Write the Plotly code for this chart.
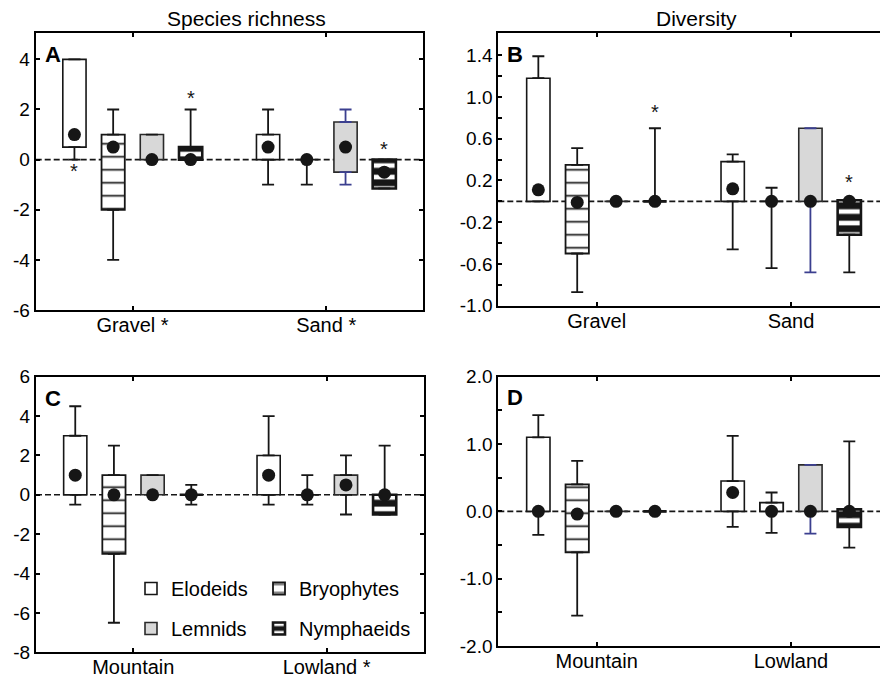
import plotly.graph_objects as go

# ---------------- DATA ----------------
species = ["Elodeids", "Bryophytes", "Lemnids", "Nymphaeids"]

# Panel A: Species richness by substrate
A_cats = ["Gravel *", "Sand *"]
A_q1 = [[0.5, 0.0], [-2.0, 0.0], [0.0, -0.5], [0.0, -1.15]]
A_q3 = [[4.0, 1.0], [1.0, 0.0], [1.0, 1.5], [0.5, 0.0]]
A_lo = [[0.0, -1.0], [-4.0, -1.0], [0.0, -1.0], [0.0, -1.15]]
A_hi = [[4.0, 2.0], [2.0, 0.0], [1.0, 2.0], [2.0, 0.0]]
A_dot = [[1.0, 0.5], [0.5, 0.0], [0.0, 0.5], [0.0, -0.5]]
A_stars = [(0, 0, -0.3), (3, 0, 2.6), (3, 1, 0.6)]  # (species, category, y)

# Panel B: Diversity by substrate
B_cats = ["Gravel", "Sand"]
B_q1 = [[0.0, 0.0], [-0.50, 0.0], [0.0, 0.0], [0.0, -0.32]]
B_q3 = [[1.18, 0.38], [0.35, 0.0], [0.0, 0.70], [0.0, 0.01]]
B_lo = [[0.0, -0.46], [-0.87, -0.64], [0.0, -0.68], [0.0, -0.68]]
B_hi = [[1.39, 0.45], [0.51, 0.13], [0.0, 0.70], [0.70, 0.01]]
B_dot = [[0.11, 0.12], [-0.01, 0.0], [0.0, 0.0], [0.0, 0.0]]
B_stars = [(3, 0, 0.89), (3, 1, 0.225)]

# Panel C: Species richness by altitude
C_cats = ["Mountain", "Lowland *"]
C_q1 = [[0.0, 0.0], [-3.0, 0.0], [0.0, 0.0], [0.0, -1.0]]
C_q3 = [[3.0, 2.0], [1.0, 0.0], [1.0, 1.0], [0.0, 0.0]]
C_lo = [[-0.5, -0.5], [-6.5, -0.5], [0.0, -1.0], [-0.5, -1.0]]
C_hi = [[4.5, 4.0], [2.5, 1.0], [1.0, 2.0], [0.5, 2.5]]
C_dot = [[1.0, 1.0], [0.0, 0.0], [0.0, 0.5], [0.0, 0.0]]
C_stars = []

# Panel D: Diversity by altitude
D_cats = ["Mountain", "Lowland"]
D_q1 = [[0.0, 0.0], [-0.61, 0.0], [0.0, 0.0], [0.0, -0.23]]
D_q3 = [[1.10, 0.45], [0.40, 0.13], [0.0, 0.69], [0.0, 0.03]]
D_lo = [[-0.35, -0.23], [-1.55, -0.32], [0.0, -0.33], [0.0, -0.54]]
D_hi = [[1.43, 1.12], [0.75, 0.28], [0.0, 0.69], [0.0, 1.04]]
D_dot = [[0.0, 0.28], [-0.04, 0.0], [0.0, 0.0], [0.0, 0.0]]
D_stars = []

A_yticks = [-6, -4, -2, 0, 2, 4]
B_yticks = [1.4, 1.0, 0.6, 0.2, -0.2, -0.6, -1.0]
B_yminor = [1.2, 0.8, 0.4, 0.0, -0.4, -0.8]
C_yticks = [-8, -6, -4, -2, 0, 2, 4, 6]
D_yticks = [-2.0, -1.0, 0.0, 1.0, 2.0]
D_yminor = [-1.5, -0.5, 0.5, 1.5]

titles = ["Species richness", "Diversity"]
panel_letters = ["A", "B", "C", "D"]

# ---------------- STYLE ----------------
FONT = "Liberation Sans, Arial, sans-serif"
offsets = [-0.3, -0.1, 0.1, 0.3]
BOX_W = 0.12
INK = "#161616"
BLUE = "#3b3f8f"
blue_whiskers = {("A", 2, 1), ("B", 2, 1), ("D", 2, 1)}

box_styles = [
    dict(color="white", line=dict(color=INK, width=1.6)),
    dict(color="white", line=dict(color=INK, width=1.8),
         pattern=dict(shape="-", fgcolor=INK, bgcolor="white", size=13, solidity=0.13,
                      fillmode="replace", fgopacity=1)),
    dict(color="#d8d8d8", line=dict(color="#2a2a2a", width=1.6)),
    dict(color=INK, line=dict(color=INK, width=2.6),
         pattern=dict(shape="-", fgcolor="white", bgcolor=INK, size=11.5, solidity=0.4,
                      fillmode="replace", fgopacity=1)),
]

panels = [
    ("A", A_cats, A_q1, A_q3, A_lo, A_hi, A_dot, A_stars, "x", "y"),
    ("B", B_cats, B_q1, B_q3, B_lo, B_hi, B_dot, B_stars, "x2", "y2"),
    ("C", C_cats, C_q1, C_q3, C_lo, C_hi, C_dot, C_stars, "x3", "y3"),
    ("D", D_cats, D_q1, D_q3, D_lo, D_hi, D_dot, D_stars, "x4", "y4"),
]

fig = go.Figure()
annotations = []
shapes = []

for name, cats, q1, q3, lo, hi, dot, stars, xa, ya in panels:
    # boxes
    for s, sp in enumerate(species):
        xs = [c + offsets[s] for c in range(len(cats))]
        heights = [q3[s][c] - q1[s][c] for c in range(len(cats))]
        show = name == "C"
        fig.add_trace(go.Bar(
            x=xs, y=heights, base=q1[s], width=BOX_W, marker=box_styles[s],
            name=sp, showlegend=show,
            legend="legend" if s in (0, 2) else "legend2",
            legendgroup=sp, xaxis=xa, yaxis=ya, hoverinfo="skip"))
    # whiskers
    for s, sp in enumerate(species):
        for c in range(len(cats)):
            col = BLUE if (name, s, c) in blue_whiskers else INK
            x = c + offsets[s]
            fig.add_trace(go.Scatter(
                x=[x, x], y=[q3[s][c], q1[s][c]], mode="markers",
                marker=dict(size=1, color="rgba(0,0,0,0)"),
                error_y=dict(type="data", symmetric=False,
                             array=[hi[s][c] - q3[s][c], 0],
                             arrayminus=[0, q1[s][c] - lo[s][c]],
                             color=col, thickness=1.8, width=6),
                showlegend=False, xaxis=xa, yaxis=ya, hoverinfo="skip"))
    # dots
    for s, sp in enumerate(species):
        xs = [c + offsets[s] for c in range(len(cats))]
        fig.add_trace(go.Scatter(
            x=xs, y=dot[s], mode="markers",
            marker=dict(size=13, color=INK), showlegend=False,
            xaxis=xa, yaxis=ya, hoverinfo="skip"))
    # stars
    for s, c, yv in stars:
        annotations.append(dict(x=c + offsets[s], y=yv, xref=xa, yref=ya, text="*",
                                showarrow=False, yshift=-4, yanchor="middle",
                                xanchor="center",
                                font=dict(family=FONT, size=20, color=INK)))
    # dashed zero line
    shapes.append(dict(type="line", xref=f"{xa} domain", yref=ya, x0=0, x1=1, y0=0, y1=0,
                       line=dict(color=INK, width=1.6, dash="6px,3px"), layer="below"))
    # panel letter
    annotations.append(dict(x=0.018, y=0.975, xref=f"{xa} domain", yref=f"{ya} domain",
                            text=f"<b>{name}</b>", showarrow=False, xanchor="left",
                            yanchor="top", font=dict(family=FONT, size=22, color="black")))

W, H = 880, 678
left_dom = [35.7 / W, 423 / W]
right_dom = [498.3 / W, 1.0]


def xaxis(dom, cats, rng, anchor):
    return dict(domain=dom, range=rng, anchor=anchor, tickmode="array",
                tickvals=list(range(len(cats))), ticktext=cats, automargin=False,
                showline=True, linecolor="black", linewidth=2, mirror="ticks",
                ticks="inside", ticklen=4, tickwidth=1.5, tickcolor="black",
                showgrid=False, zeroline=False, ticklabelstandoff=-4,
                tickfont=dict(family=FONT, size=20, color="black"))


def yaxis(dom, rng, anchor, ticks, fmt, mirror, minor=None):
    d = dict(domain=dom, range=rng, anchor=anchor, tickmode="array",
             tickvals=ticks, ticktext=[fmt.format(t) for t in ticks], automargin=False,
             showline=True, linecolor="black", linewidth=2,
             mirror="ticks" if mirror else False,
             ticks="inside", ticklen=4, tickwidth=1.5, tickcolor="black",
             showgrid=False, zeroline=False,
             tickfont=dict(family=FONT, size=19, color="black"))
    if minor:
        d["minor"] = dict(tickmode="array", tickvals=minor, ticks="inside",
                          ticklen=4, tickwidth=1.5, tickcolor="black", showgrid=False)
    return d


fig.update_layout(
    width=W, height=H, margin=dict(l=0, r=0, t=0, b=0, autoexpand=False),
    paper_bgcolor="white", plot_bgcolor="white", barmode="overlay",
    font=dict(family=FONT, color="black"),
    xaxis=xaxis(left_dom, A_cats, [-0.5, 1.5], "y"),
    yaxis=yaxis([1 - 310 / H, 1 - 33.3 / H], [-6, 5.04], "x", A_yticks, "{:g}", True),
    xaxis2=xaxis(right_dom, B_cats, [-0.506, 1.458], "y2"),
    yaxis2=yaxis([1 - 305.7 / H, 1 - 33.3 / H], [-1.0, 1.61], "x2", B_yticks, "{:.1f}", False, B_yminor),
    xaxis3=xaxis([36 / W, 424.3 / W], C_cats, [-0.503, 1.505], "y3"),
    yaxis3=yaxis([1 - 652.3 / H, 1 - 376.7 / H], [-8, 6], "x3", C_yticks, "{:g}", True),
    xaxis4=xaxis(right_dom, D_cats, [-0.506, 1.458], "y4"),
    yaxis4=yaxis([1 - 646 / H, 1 - 376.7 / H], [-2.0, 2.0], "x4", D_yticks, "{:.1f}", False, D_yminor),
    legend=dict(x=131 / W, y=1 - 569 / H, xanchor="left", yanchor="top",
                bgcolor="rgba(0,0,0,0)", traceorder="grouped", tracegroupgap=11,
                font=dict(family=FONT, size=20, color="black")),
    legend2=dict(x=259 / W, y=1 - 569 / H, xanchor="left", yanchor="top",
                 bgcolor="rgba(0,0,0,0)", traceorder="grouped", tracegroupgap=11,
                 font=dict(family=FONT, size=20, color="black")),
    shapes=shapes,
)

annotations.append(dict(x=246.5 / W, y=1 - 18 / H, xref="paper", yref="paper", text=titles[0],
                        showarrow=False, xanchor="center", yanchor="middle",
                        font=dict(family=FONT, size=21, color="black")))
annotations.append(dict(x=696 / W, y=1 - 18 / H, xref="paper", yref="paper", text=titles[1],
                        showarrow=False, xanchor="center", yanchor="middle",
                        font=dict(family=FONT, size=21, color="black")))
fig.update_layout(annotations=annotations)

fig.write_html("out.html")
